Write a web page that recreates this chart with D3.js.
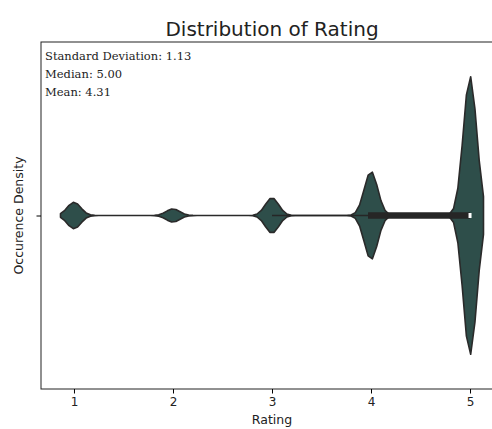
<!DOCTYPE html>
<html lang="en">
  <head>
    <meta charset="UTF-8" />
    <title>Distribution of Rating</title>
    <script src="https://cdn.jsdelivr.net/npm/d3@7"></script>
    <style>
      body { margin: 0; background: #fff; }
      text { font-family: "DejaVu Sans", sans-serif; fill: #222; }
    </style>
  </head>
  <body>
    <script>
      // share of reviews per rating (percent)
      var ratings = [1, 2, 3, 4, 5];
      var shares = [6, 3, 8, 20, 63];
      var xTicks = [1, 2, 3, 4, 5];
      var statLines = ["Standard Deviation: 1.13", "Median: 5.00", "Mean: 4.31"];
      var box = { whiskerLo: 3, q1: 4, median: 5, q3: 5, whiskerHi: 5 };
      var bw = 0.068;

      var W = 492, H = 429;
      // plot frame (top/left are window globals, so use other names)
      var pL = 41, pT = 42, pR = 503, pB = 389;

      var svg = d3.select("body").append("svg")
        .attr("width", W).attr("height", H);

      var x = d3.scaleLinear().domain([0.667, 5.333]).range([pL, pR]);
      var y = d3.scaleLinear().domain([-0.5, 0.5]).range([pB, pT]);

      // gaussian kde on a 100 point grid, cut = 2 bandwidths
      var total = d3.sum(shares);
      var lo = d3.min(ratings) - 2 * bw, hi = d3.max(ratings) + 2 * bw;
      var grid = d3.range(100).map(function (i) { return lo + (hi - lo) * i / 99; });
      var dens = grid.map(function (g) {
        var s = 0;
        ratings.forEach(function (r, i) {
          var z = (g - r) / bw;
          s += shares[i] / total * Math.exp(-0.5 * z * z);
        });
        return { v: g, d: s / (bw * Math.sqrt(2 * Math.PI)) };
      });
      var w = d3.scaleLinear().domain([0, d3.max(dens, function (p) { return p.d; })]).range([0, 0.4]);

      var area = d3.area()
        .x(function (p) { return x(p.v); })
        .y0(function (p) { return y(-w(p.d)); })
        .y1(function (p) { return y(w(p.d)); });

      svg.append("path").datum(dens)
        .attr("d", area)
        .attr("fill", "#2e4e4a")
        .attr("stroke", "#2a2a2a")
        .attr("stroke-width", 1.6)
        .attr("stroke-linejoin", "round");

      // inner box
      svg.append("line")
        .attr("x1", x(box.whiskerLo)).attr("x2", x(box.whiskerHi))
        .attr("y1", y(0)).attr("y2", y(0))
        .attr("stroke", "#262626").attr("stroke-width", 1.5);
      svg.append("line")
        .attr("x1", x(box.q1) - 3).attr("x2", x(box.q3))
        .attr("y1", y(0)).attr("y2", y(0))
        .attr("stroke", "#262626").attr("stroke-width", 6.5);
      svg.append("rect")
        .attr("x", x(box.median) - 1.5).attr("y", y(0) - 2.5)
        .attr("width", 3).attr("height", 5)
        .attr("fill", "#fff");

      // frame
      svg.append("rect")
        .attr("x", pL).attr("y", pT)
        .attr("width", pR - pL).attr("height", pB - pT)
        .attr("fill", "none").attr("stroke", "#222").attr("stroke-width", 1);

      var xAxis = svg.append("g")
        .attr("transform", "translate(0," + pB + ")")
        .call(d3.axisBottom(x).tickValues(xTicks).tickFormat(d3.format("d")).tickSize(4.5).tickPadding(4));
      xAxis.select(".domain").remove();
      xAxis.selectAll("text").style("font-size", "12px").attr("fill", "#222");

      var yAxis = svg.append("g")
        .attr("transform", "translate(" + pL + ",0)")
        .call(d3.axisLeft(y).tickValues([0]).tickFormat("").tickSize(4.5));
      yAxis.select(".domain").remove();

      svg.append("text")
        .attr("x", (pL + pR) / 2).attr("y", 36)
        .attr("text-anchor", "middle")
        .style("font-size", "20px")
        .text("Distribution of Rating");

      svg.append("text")
        .attr("x", (pL + pR) / 2).attr("y", 424)
        .attr("text-anchor", "middle")
        .style("font-size", "12.5px")
        .text("Rating");

      svg.append("text")
        .attr("transform", "translate(23," + y(0) + ") rotate(-90)")
        .attr("text-anchor", "middle")
        .style("font-size", "12.5px")
        .text("Occurence Density");

      svg.selectAll(".stat").data(statLines).enter().append("text")
        .attr("class", "stat")
        .attr("x", 45)
        .attr("y", function (d, i) { return 60 + i * 18; })
        .style("font-family", "'DejaVu Serif', serif")
        .style("font-size", "11.5px")
        .text(function (d) { return d; });
    </script>
  </body>
</html>
